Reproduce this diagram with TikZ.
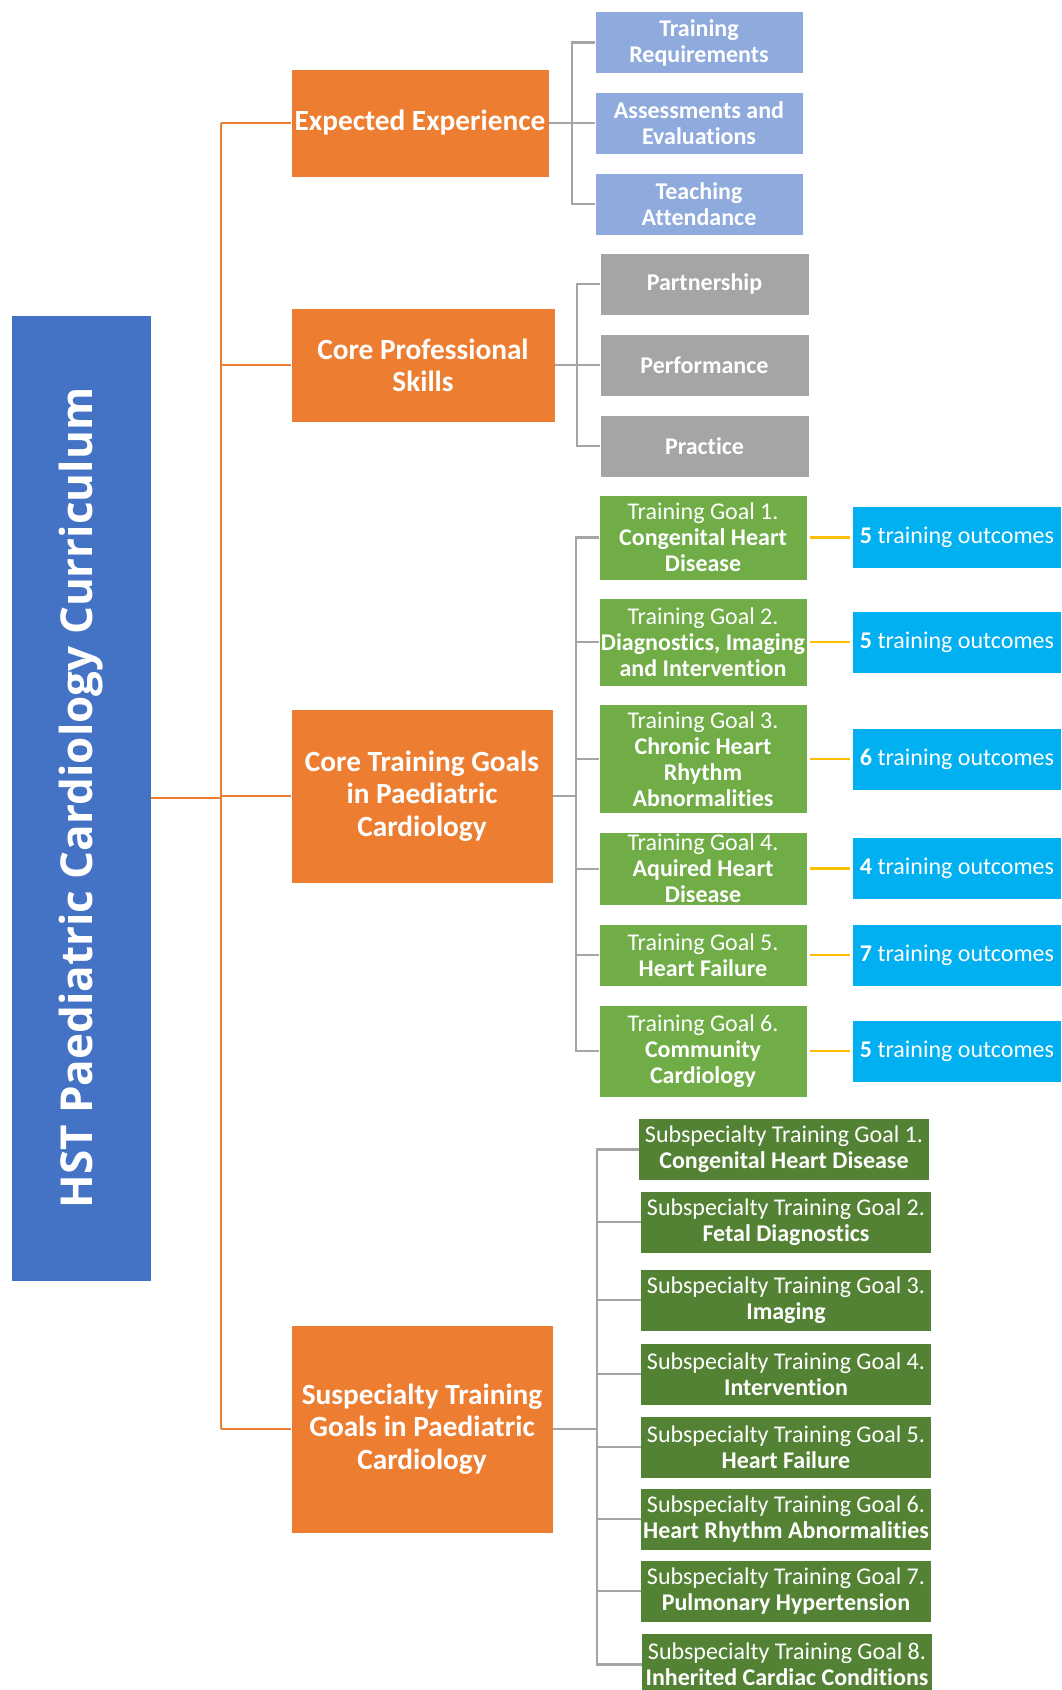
\documentclass[tikz,border=0pt]{standalone}
\usepackage{fontspec}
\setmainfont{Carlito}[Ligatures={NoCommon}]
\newfontfamily\rootfont{Open Sans}

\definecolor{hstblue}{HTML}{4472C4}
\definecolor{hstorange}{HTML}{ED7D31}
\definecolor{hstlight}{HTML}{8FAADC}
\definecolor{hstgray}{HTML}{A5A5A5}
\definecolor{hstgreen}{HTML}{70AD47}
\definecolor{hstdark}{HTML}{548235}
\definecolor{hstcyan}{HTML}{00B0F0}
\definecolor{hstyellow}{HTML}{FFC000}

\begin{document}
\begin{tikzpicture}[x=1pt, y=-1pt]
\tikzset{ >=latex, inner sep=0pt, outer sep=0pt,
  box/.style={draw=white, line width=0.8pt, text=white, align=center, minimum height=62},
  rootbox/.style={box, fill=hstblue, font=\rootfont\bfseries\fontsize{44}{48}\selectfont},
  mainbox/.style={box, fill=hstorange, font=\bfseries\fontsize{29.3}{32.3}\selectfont},
  expbox/.style={box, fill=hstlight, minimum width=208, font=\bfseries\fontsize{24}{26}\selectfont},
  skillbox/.style={box, fill=hstgray, minimum width=209, font=\bfseries\fontsize{24}{26}\selectfont},
  goalbox/.style={box, fill=hstgreen, minimum width=208, font=\fontsize{24}{26}\selectfont},
  outbox/.style={box, fill=hstcyan, minimum width=209, font=\fontsize{24}{26}\selectfont},
  subbox/.style={box, fill=hstdark, minimum width=291, font=\fontsize{24}{26}\selectfont},
  orangeline/.style={draw=hstorange, line width=2.2pt},
  grayline/.style={draw=hstgray, line width=2.2pt},
  yellowline/.style={draw=hstyellow, line width=2.5pt, shorten <=3pt, shorten >=3pt},
}

\useasboundingbox (0,0) rectangle (1061,1690);

%\draw [lightgray, dashed](0,0) grid[step=100] (1061,1690);

\node [rootbox, rotate=90, minimum width=966, minimum height=140] (HST) at (81,798) {HST Paediatric Cardiology Curriculum};

\node [mainbox, minimum width=258, minimum height=108] (EE)  at (420,123)  {Expected Experience};
\node [mainbox, minimum width=264, minimum height=114] (CPS) at (423,365)  {Core Professional\\Skills};
\node [mainbox, minimum width=262, minimum height=174] (CTG) at (422,796)  {Core Training Goals\\in Paediatric\\Cardiology};
\node [mainbox, minimum width=262, minimum height=208] (STG) at (422,1429) {Suspecialty Training\\Goals in Paediatric\\Cardiology};

\node [expbox] (TR) at (699,42.5) {Training\\Requirements};
\node [expbox] (AE) at (699,123)  {Assessments and\\Evaluations};
\node [expbox] (TA) at (699,204)  {Teaching\\Attendance};

\node [skillbox] (PA) at (704.5,284) {Partnership};
\node [skillbox] (PE) at (704.5,365) {Performance};
\node [skillbox] (PR) at (704.5,446) {Practice};

\node [goalbox, minimum height=85]   (TG1) at (703,537.5) {Training Goal 1.\\\textbf{Congenital Heart}\\\textbf{Disease}};
\node [goalbox, minimum height=88]   (TG2) at (703,642)   {Training Goal 2.\\\textbf{Diagnostics, Imaging}\\\textbf{and Intervention}};
\node [goalbox, minimum height=109]  (TG3) at (703,759)   {Training Goal 3.\\\textbf{Chronic Heart}\\\textbf{Rhythm}\\\textbf{Abnormalities}};
\node [goalbox, minimum height=73.5] (TG4) at (703,868.7) {Training Goal 4.\\\textbf{Aquired Heart}\\\textbf{Disease}};
\node [goalbox]                      (TG5) at (703,955)   {Training Goal 5.\\\textbf{Heart Failure}};
\node [goalbox, minimum height=92]   (TG6) at (703,1051)  {Training Goal 6.\\\textbf{Community}\\\textbf{Cardiology}};

\node [outbox] (O1) at (957,537.5) {\textbf{5} training outcomes};
\node [outbox] (O2) at (957,642)   {\textbf{5} training outcomes};
\node [outbox] (O3) at (957,759)   {\textbf{6} training outcomes};
\node [outbox] (O4) at (957,868.7) {\textbf{4} training outcomes};
\node [outbox] (O5) at (957,955)   {\textbf{7} training outcomes};
\node [outbox] (O6) at (957,1051)  {\textbf{5} training outcomes};

\node [subbox] (SG1) at (784,1149.5) {Subspecialty Training Goal 1.\\\textbf{Congenital Heart Disease}};
\node [subbox] (SG2) at (786,1222)   {Subspecialty Training Goal 2.\\\textbf{Fetal Diagnostics}};
\node [subbox] (SG3) at (786,1300)   {Subspecialty Training Goal 3.\\\textbf{Imaging}};
\node [subbox] (SG4) at (786,1374)   {Subspecialty Training Goal 4.\\\textbf{Intervention}};
\node [subbox] (SG5) at (786,1447)   {Subspecialty Training Goal 5.\\\textbf{Heart Failure}};
\node [subbox] (SG6) at (786,1519)   {Subspecialty Training Goal 6.\\\textbf{Heart Rhythm Abnormalities}};
\node [subbox] (SG7) at (786,1591)   {Subspecialty Training Goal 7.\\\textbf{Pulmonary Hypertension}};
\node [subbox] (SG8) at (787,1664.5) {Subspecialty Training Goal 8.\\\textbf{Inherited Cardiac Conditions}};

\coordinate (T)  at (221,0);
\coordinate (EB) at (572,0);
\coordinate (CB) at (577,0);
\coordinate (GB) at (576,0);
\coordinate (SB) at (597,0);

\draw [orangeline] (HST.south) -- (T |- HST.south);
\draw [orangeline] (T |- EE.west) -- (T |- STG.west);
\draw [orangeline] (T |- EE.west)  -- (EE.west);
\draw [orangeline] (T |- CPS.west) -- (CPS.west);
\draw [orangeline] (T |- CTG.west) -- (CTG.west);
\draw [orangeline] (T |- STG.west) -- (STG.west);

\draw [grayline] (EE.east) -- (AE.west);
\draw [grayline] (TR.west) -- (EB |- TR.west) -- (EB |- TA.west) -- (TA.west);

\draw [grayline] (CPS.east) -- (PE.west);
\draw [grayline] (PA.west) -- (CB |- PA.west) -- (CB |- PR.west) -- (PR.west);

\draw [grayline] (CTG.east) -- (GB |- CTG.east);
\draw [grayline] (TG1.west) -- (GB |- TG1.west) -- (GB |- TG6.west) -- (TG6.west);
\draw [grayline] (GB |- TG2.west) -- (TG2.west);
\draw [grayline] (GB |- TG3.west) -- (TG3.west);
\draw [grayline] (GB |- TG4.west) -- (TG4.west);
\draw [grayline] (GB |- TG5.west) -- (TG5.west);

\draw [yellowline] (TG1.east) -- (O1.west);
\draw [yellowline] (TG2.east) -- (O2.west);
\draw [yellowline] (TG3.east) -- (O3.west);
\draw [yellowline] (TG4.east) -- (O4.west);
\draw [yellowline] (TG5.east) -- (O5.west);
\draw [yellowline] (TG6.east) -- (O6.west);

\draw [grayline] (STG.east) -- (SB |- STG.east);
\draw [grayline] (SG1.west) -- (SB |- SG1.west) -- (SB |- SG8.west) -- (SG8.west);
\draw [grayline] (SB |- SG2.west) -- (SG2.west);
\draw [grayline] (SB |- SG3.west) -- (SG3.west);
\draw [grayline] (SB |- SG4.west) -- (SG4.west);
\draw [grayline] (SB |- SG5.west) -- (SG5.west);
\draw [grayline] (SB |- SG6.west) -- (SG6.west);
\draw [grayline] (SB |- SG7.west) -- (SG7.west);

\end{tikzpicture}
\end{document}
